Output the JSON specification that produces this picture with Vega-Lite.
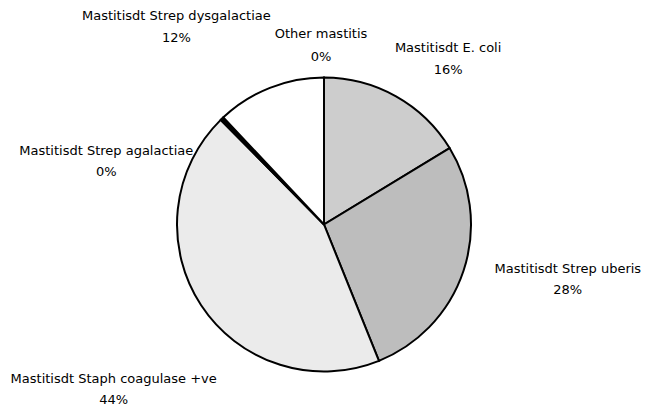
{
  "$schema": "https://vega.github.io/schema/vega-lite/v6.json",
  "width": 648,
  "height": 379,
  "autosize": {"type": "none"},
  "padding": {"top": 35, "left": 0, "right": 0, "bottom": 0},
  "background": "white",
  "config": {"view": {"stroke": null}},
  "data": {
    "values": [
      {"idx": 1, "category": "Mastitisdt E. coli", "pct": 16.3, "label": "Mastitisdt E. coli\n16%"},
      {"idx": 2, "category": "Mastitisdt Strep uberis", "pct": 27.6, "label": "Mastitisdt Strep uberis\n28%"},
      {"idx": 3, "category": "Mastitisdt Staph coagulase +ve", "pct": 43.7, "label": "Mastitisdt Staph coagulase +ve\n44%"},
      {"idx": 4, "category": "Mastitisdt Strep agalactiae", "pct": 0.4, "label": "Mastitisdt Strep agalactiae\n0%"},
      {"idx": 5, "category": "Mastitisdt Strep dysgalactiae", "pct": 12.0, "label": "Mastitisdt Strep dysgalactiae\n12%"},
      {"idx": 6, "category": "Other mastitis", "pct": 0.0, "label": "Other mastitis\n0%"}
    ]
  },
  "encoding": {
    "theta": {"field": "pct", "type": "quantitative", "stack": true},
    "order": {"field": "idx", "type": "quantitative"}
  },
  "layer": [
    {
      "mark": {"type": "arc", "outerRadius": 147, "stroke": "black", "strokeWidth": 2},
      "encoding": {
        "fill": {
          "field": "category",
          "type": "nominal",
          "scale": {
            "domain": ["Mastitisdt E. coli", "Mastitisdt Strep uberis", "Mastitisdt Staph coagulase +ve", "Mastitisdt Strep agalactiae", "Mastitisdt Strep dysgalactiae", "Other mastitis"],
            "range": ["#cdcdcd", "#bdbdbd", "#ebebeb", "#000000", "#ffffff", "#ffffff"]
          },
          "legend": null
        }
      }
    },
    {
      "mark": {"type": "text", "radius": 190, "dx": 31, "dy": -11, "font": "DejaVu Sans", "fontSize": 13, "lineBreak": "\n", "lineHeight": 22, "baseline": "middle", "align": "center", "color": "black"},
      "encoding": {"text": {"condition": {"test": "datum.category === 'Mastitisdt E. coli'", "field": "label"}, "value": ""}}
    },
    {
      "mark": {"type": "text", "radius": 240, "dx": 16, "dy": -31, "font": "DejaVu Sans", "fontSize": 13, "lineBreak": "\n", "lineHeight": 21, "baseline": "middle", "align": "center", "color": "black"},
      "encoding": {"text": {"condition": {"test": "datum.category === 'Mastitisdt Strep uberis'", "field": "label"}, "value": ""}}
    },
    {
      "mark": {"type": "text", "radius": 260, "dx": 7, "dy": 12, "font": "DejaVu Sans", "fontSize": 13, "lineBreak": "\n", "lineHeight": 21, "baseline": "middle", "align": "center", "color": "black"},
      "encoding": {"text": {"condition": {"test": "datum.category === 'Mastitisdt Staph coagulase +ve'", "field": "label"}, "value": ""}}
    },
    {
      "mark": {"type": "text", "radius": 200, "dx": -79, "dy": 71, "font": "DejaVu Sans", "fontSize": 13, "lineBreak": "\n", "lineHeight": 21, "baseline": "middle", "align": "center", "color": "black"},
      "encoding": {"text": {"condition": {"test": "datum.category === 'Mastitisdt Strep agalactiae'", "field": "label"}, "value": ""}}
    },
    {
      "mark": {"type": "text", "radius": 230, "dx": -63, "dy": 5, "font": "DejaVu Sans", "fontSize": 13, "lineBreak": "\n", "lineHeight": 22, "baseline": "middle", "align": "center", "color": "black"},
      "encoding": {"text": {"condition": {"test": "datum.category === 'Mastitisdt Strep dysgalactiae'", "field": "label"}, "value": ""}}
    },
    {
      "mark": {"type": "text", "radius": 180, "dx": -3, "dy": -11, "font": "DejaVu Sans", "fontSize": 13, "lineBreak": "\n", "lineHeight": 23, "baseline": "middle", "align": "center", "color": "black"},
      "encoding": {"text": {"condition": {"test": "datum.category === 'Other mastitis'", "field": "label"}, "value": ""}}
    }
  ]
}
